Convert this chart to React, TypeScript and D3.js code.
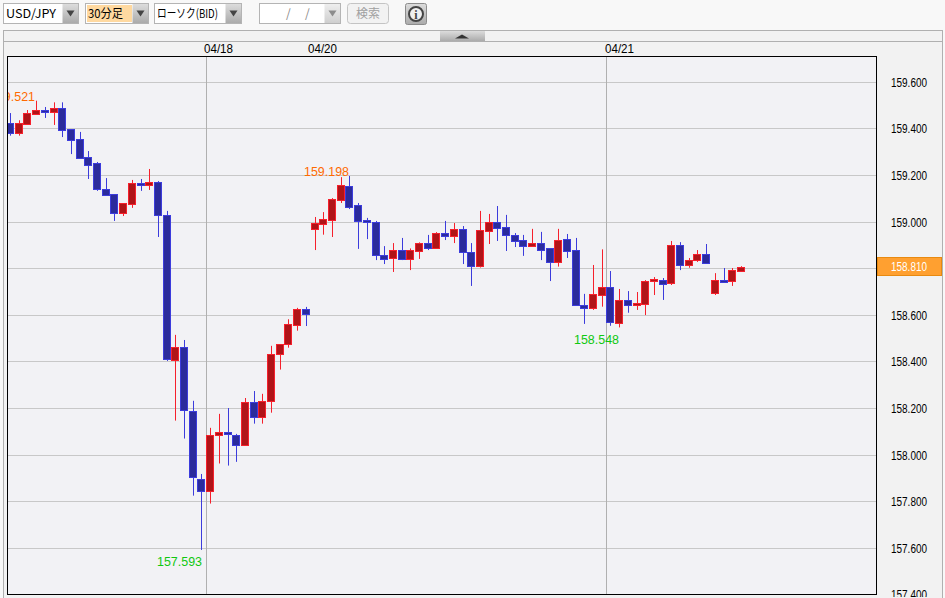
import React from "react";
import * as d3 from "d3";

const opens = [159.424,159.384,159.423,159.465,159.48,159.474,159.488,159.398,159.355,159.278,159.252,159.141,159.119,159.041,159.079,159.166,159.161,159.171,159.029,158.41,158.463,158.188,157.896,157.845,158.085,158.098,158.085,158.042,158.227,158.162,158.231,158.433,158.476,158.56,158.626,158.972,158.993,159.011,159.096,159.154,159.072,159.008,158.999,158.857,158.847,158.879,158.843,158.877,158.909,158.89,158.952,158.942,158.969,158.87,158.813,158.963,158.999,158.978,158.943,158.922,158.899,158.909,158.888,158.83,158.926,158.879,158.643,158.63,158.689,158.72,158.568,158.664,158.646,158.65,158.749,158.75,158.74,158.9,158.817,158.836,158.862,158.697,158.75,158.749,158.791];
const highs = [159.468,159.437,159.481,159.521,159.494,159.514,159.514,159.398,159.387,159.305,159.258,159.189,159.119,159.081,159.181,159.185,159.228,159.176,159.048,158.516,158.494,158.233,157.919,158.117,158.177,158.202,158.091,158.245,158.275,158.263,158.469,158.476,158.583,158.632,158.636,159.022,159.043,159.103,159.193,159.198,159.082,159.018,159.005,158.897,158.91,158.932,158.887,158.913,158.945,158.957,159.005,158.996,158.983,158.91,159.048,159.035,159.069,159.031,158.953,158.945,158.971,158.958,158.888,158.971,158.949,158.932,158.692,158.816,158.883,158.79,158.713,158.704,158.7,158.751,158.764,158.76,158.919,158.914,158.846,158.88,158.906,158.781,158.803,158.803,158.811];
const lows = [159.371,159.371,159.423,159.46,159.447,159.417,159.365,159.292,159.277,159.185,159.134,159.118,159.005,159.026,159.061,159.134,159.138,158.936,158.404,158.148,158.071,157.826,157.593,157.792,157.964,157.955,157.971,158.042,158.135,158.135,158.182,158.367,158.461,158.534,158.554,158.88,158.946,158.936,159.082,159.056,158.885,158.927,158.837,158.82,158.786,158.837,158.794,158.842,158.88,158.89,158.923,158.91,158.82,158.726,158.805,158.906,158.919,158.876,158.893,158.855,158.899,158.837,158.747,158.809,158.846,158.643,158.563,158.623,158.637,158.555,158.548,158.611,158.623,158.601,158.687,158.666,158.73,158.794,158.804,158.829,158.826,158.687,158.744,158.726,158.791];
const closes = [159.384,159.424,159.467,159.48,159.475,159.488,159.397,159.354,159.277,159.247,159.144,159.118,159.041,159.081,159.166,159.161,159.171,159.032,158.414,158.463,158.192,157.905,157.845,158.085,158.097,158.089,158.042,158.227,158.162,158.231,158.433,158.476,158.562,158.626,158.607,158.995,159.012,159.098,159.158,159.066,159.006,159.001,158.86,158.843,158.879,158.842,158.879,158.909,158.89,158.952,158.942,158.969,158.873,158.813,158.965,158.999,158.976,158.943,158.92,158.899,158.909,158.882,158.83,158.922,158.878,158.643,158.63,158.69,158.72,158.57,158.664,158.646,158.651,158.746,158.756,158.736,158.9,158.817,158.836,158.862,158.826,158.75,158.744,158.793,158.806];

const priceTicks = [159.6,159.4,159.2,159.0,158.8,158.6,158.4,158.2,158.0,157.8,157.6,157.4];
const dateLabels = ["04/18","04/20","04/21"];
const lastPrice = "158.810";
const highLabels = ["159.521","159.198"];
const lowLabels = ["157.593","158.548"];

const W = 945, H = 598;
const x = d3.scaleLinear().domain([0, 84]).range([10, 741]);
const y = d3.scaleLinear().domain([159.6, 157.6]).range([82.3, 548.3]);
const px = (v: number) => Math.round(v);
const UI = "'Noto Sans CJK JP','Liberation Sans',sans-serif";
const NARROW = "'Liberation Sans Narrow','Liberation Sans',sans-serif";

function Combo({ x0, w, btn, label, hi, dim, tl }: any) {
  return (
    <g>
      <rect x={x0 + 0.5} y={3.5} width={w} height={20} fill="#fff" stroke="#b4b4b4" />
      {hi ? <rect x={x0 + 2} y={5} width={hi} height={17} fill="#ffd9a0" /> : null}
      <rect x={x0 + w - btn + 0.5} y={4} width={btn - 0.5} height={19} fill={dim ? "url(#btnL)" : "url(#btn)"} />
      <path d={`M${x0 + w - btn / 2 - 3.5},10.5h8l-4,6z`} fill={dim ? "#8c8c8c" : "#444"} />
      {label ? <text x={x0 + 3} y={18} fontFamily={UI} fontSize={12} fill="#000" textLength={tl} lengthAdjust="spacingAndGlyphs">{label}</text> : null}
    </g>
  );
}

export default function App() {
  return (
    <svg width={W} height={H} style={{ position: "absolute", left: 0, top: 0, display: "block" }}>
      <defs>
        <linearGradient id="btn" x1="0" x2="0" y1="0" y2="1"><stop offset="0" stopColor="#dcdcdc" /><stop offset="1" stopColor="#ababab" /></linearGradient>
        <linearGradient id="btnL" x1="0" x2="0" y1="0" y2="1"><stop offset="0" stopColor="#eeeeee" /><stop offset="1" stopColor="#cfcfcf" /></linearGradient>
        <clipPath id="plot"><rect x={8} y={57} width={868} height={537} /></clipPath>
        <clipPath id="page"><rect x={4} y={42} width={938} height={555} /></clipPath>
      </defs>
      <rect width={W} height={H} fill="#f8f8f8" />

      <Combo x0={3} w={75} btn={16} label="USD/JPY" tl={50} />
      <Combo x0={85} w={63} btn={16} label="30分足" hi={45} tl={35} />
      <Combo x0={154} w={87} btn={16} label="ローソク(BID)" tl={61} />
      <Combo x0={259} w={81} btn={16} dim />
      <text x={286} y={18} fontFamily={UI} fontSize={12} fill="#888">/</text>
      <text x={305} y={18} fontFamily={UI} fontSize={12} fill="#888">/</text>
      <rect x={347.5} y={3.5} width={41} height={20} rx={3} fill="#f2f2f2" stroke="#c4c4c4" />
      <text x={368} y={18} textAnchor="middle" fontFamily={UI} fontSize={12} fill="#a0a0a0">検索</text>
      <rect x={405.5} y={3.5} width={21} height={21} rx={2} fill="url(#btn)" stroke="#8c8c8c" />
      <circle cx={416} cy={14} r={7} fill="#f0f0f0" stroke="#444" strokeWidth={2} />
      <text x={416} y={18.5} textAnchor="middle" fontFamily="'Liberation Serif',serif" fontWeight={700} fontSize={12} fill="#444">i</text>

      <rect x={3.5} y={30.5} width={939} height={570} fill="#f2f2f2" stroke="#b0b0b0" />
      <line x1={4} x2={942} y1={41.5} y2={41.5} stroke="#b0b0b0" />
      <rect x={440} y={31} width={45} height={10} fill="url(#btn)" />
      <path d="M455,38.5l7,-4l7,4z" fill="#333" />

      <rect x={8} y={57} width={868} height={537} fill="#f2f2f5" />
      {priceTicks.slice(0, 11).map((p) => (
        <line key={p} x1={8} x2={876} y1={Math.floor(y(p)) + 0.5} y2={Math.floor(y(p)) + 0.5} stroke="#c8c8c8" />
      ))}
      {[206, 606].map((v) => (
        <line key={v} x1={v + 0.5} x2={v + 0.5} y1={57} y2={594} stroke="#b0b0b0" />
      ))}

      <g clipPath="url(#plot)">
        {opens.map((o, i) => {
          const c = closes[i];
          const up = c >= o;
          const cx = px(x(i));
          const top = Math.round(y(Math.max(o, c)));
          const bot = Math.max(Math.round(y(Math.min(o, c))), top + 2);
          const border = up ? "#f6202c" : "#3c3cdc";
          const fill = up ? "#b01418" : "#2b2b9c";
          return (
            <g key={i}>
              <line x1={cx + 0.5} x2={cx + 0.5} y1={y(highs[i])} y2={y(lows[i])} stroke={border} />
              <rect x={cx - 3.5} y={top + 0.5} width={7} height={bot - top} fill={fill} stroke={border} />
            </g>
          );
        })}
        <text x={-10} y={101} fontFamily={NARROW} fontSize={13} fill="#ff6a00" textLength={45} lengthAdjust="spacingAndGlyphs">{highLabels[0]}</text>
        <text x={304} y={176} fontFamily={NARROW} fontSize={13} fill="#ff6a00" textLength={45} lengthAdjust="spacingAndGlyphs">{highLabels[1]}</text>
        <text x={157} y={566} fontFamily={NARROW} fontSize={13} fill="#10c810" textLength={45} lengthAdjust="spacingAndGlyphs">{lowLabels[0]}</text>
        <text x={574} y={344} fontFamily={NARROW} fontSize={13} fill="#10c810" textLength={45} lengthAdjust="spacingAndGlyphs">{lowLabels[1]}</text>
      </g>
      <rect x={7.5} y={56.5} width={869} height={538} fill="none" stroke="#000" />

      <text x={204} y={53} fontFamily={NARROW} fontSize={12} fill="#000" textLength={29} lengthAdjust="spacingAndGlyphs">{dateLabels[0]}</text>
      <text x={308} y={53} fontFamily={NARROW} fontSize={12} fill="#000" textLength={29} lengthAdjust="spacingAndGlyphs">{dateLabels[1]}</text>
      <text x={605} y={53} fontFamily={NARROW} fontSize={12} fill="#000" textLength={29} lengthAdjust="spacingAndGlyphs">{dateLabels[2]}</text>

      <g clipPath="url(#page)">
        {priceTicks.filter((p) => p !== 158.8).map((p) => (
          <text key={p} x={891} y={y(p) + 4.5} fontFamily={NARROW} fontSize={12} fill="#000" textLength={36} lengthAdjust="spacingAndGlyphs">{p.toFixed(3)}</text>
        ))}
      </g>
      <rect x={877.5} y={257.5} width={64} height={18} fill="#ffa030" stroke="#e88a10" />
      <text x={891} y={271} fontFamily={NARROW} fontSize={12} fill="#fff" textLength={36} lengthAdjust="spacingAndGlyphs">{lastPrice}</text>
    </svg>
  );
}
